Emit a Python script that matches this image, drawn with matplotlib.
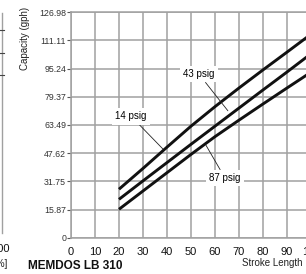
import matplotlib
matplotlib.use("Agg")
import matplotlib.pyplot as plt
from matplotlib.lines import Line2D

plt.rcParams['font.family'] = ['Liberation Sans', 'DejaVu Sans']

# data
stroke = [20, 30, 40, 50, 60, 70, 80, 90, 100]
cap_14 = [27.3, 39.0, 51.0, 62.8, 73.8, 84.3, 94.5, 104.5, 114.6]
cap_43 = [21.6, 32.0, 42.3, 52.6, 62.8, 73.0, 83.2, 93.3, 103.6]
cap_87 = [16.0, 26.3, 36.6, 46.9, 56.9, 66.2, 75.3, 84.3, 93.2]
y_ticks = [0, 15.87, 31.75, 47.62, 63.49, 79.37, 95.24, 111.11, 126.98]
y_labels = ["0", "15.87", "31.75", "47.62", "63.49", "79.37", "95.24", "111.11", "126.98"]
x_ticks = [0, 10, 20, 30, 40, 50, 60, 70, 80, 90, 100]

grid_col = '#a0a0a0'

fig = plt.figure(figsize=(3.06, 2.74), dpi=100)
ax = fig.add_axes([0.232, 0.1325, 0.784, 0.8226])

ax.set_xlim(0, 100)
ax.set_ylim(0, 126.98)
ax.set_yticks(y_ticks)
ax.set_yticklabels(y_labels)
ax.set_xticks(x_ticks)
ax.grid(True, color=grid_col, lw=1.1)
ax.set_axisbelow(True)
for s in ['left', 'bottom', 'top']:
    ax.spines[s].set_color(grid_col)
    ax.spines[s].set_linewidth(1.1)
ax.spines['right'].set_visible(False)
ax.tick_params(axis='y', length=3, color='#555555', width=0.8, pad=0.5, labelsize=6.3, labelcolor='#333333')
ax.tick_params(axis='x', length=0, pad=6.5, labelsize=8, labelcolor='#111111')

ax.plot(stroke, cap_14, color='#111111', lw=2.1, solid_capstyle='butt')
ax.plot(stroke, cap_43, color='#111111', lw=2.1, solid_capstyle='butt')
ax.plot(stroke, cap_87, color='#111111', lw=2.1, solid_capstyle='butt')

box = dict(boxstyle='square,pad=0.35', fc='white', ec='none')
arr = dict(arrowstyle='-', lw=0.6, color='#222222', shrinkA=0, shrinkB=0)
ax.annotate('43 psig', xy=(65.4, 71.5), xytext=(53.3, 92.2), ha='center', va='center',
            fontsize=7, bbox=box, arrowprops=arr)
ax.annotate('14 psig', xy=(38.3, 50.0), xytext=(25.0, 68.5), ha='center', va='center',
            fontsize=7, bbox=box, arrowprops=arr)
ax.annotate('87 psig', xy=(56.3, 52.0), xytext=(64.2, 33.6), ha='center', va='center',
            fontsize=7, bbox=box, arrowprops=arr)

fig.text(0.082, 0.86, 'Capacity (gph)', rotation=90, ha='center', va='center',
         fontsize=7, color='#222222')
fig.text(0.79, 0.03, 'Stroke Length [%]', ha='left', va='baseline', fontsize=7, color='#222222')
fig.text(0.092, 0.02, 'MEMDOS LB 310', ha='left', va='baseline', fontsize=8.5,
         fontweight='bold', color='#111111')

# edge of the neighbouring chart on the left (cut off in the source)
fig.add_artist(Line2D([0.008, 0.008], [0.15, 0.953], color=grid_col, lw=1.0))
for yy in [0.89, 0.806, 0.726]:
    fig.add_artist(Line2D([0.0, 0.012], [yy, yy], color='#444444', lw=0.8))
fig.text(-0.03, 0.09, '100', ha='left', va='center', fontsize=8, color='#111111')
fig.text(-0.022, 0.035, '[%]', ha='left', va='center', fontsize=7, color='#222222')

fig.savefig('out.png', dpi=100)
